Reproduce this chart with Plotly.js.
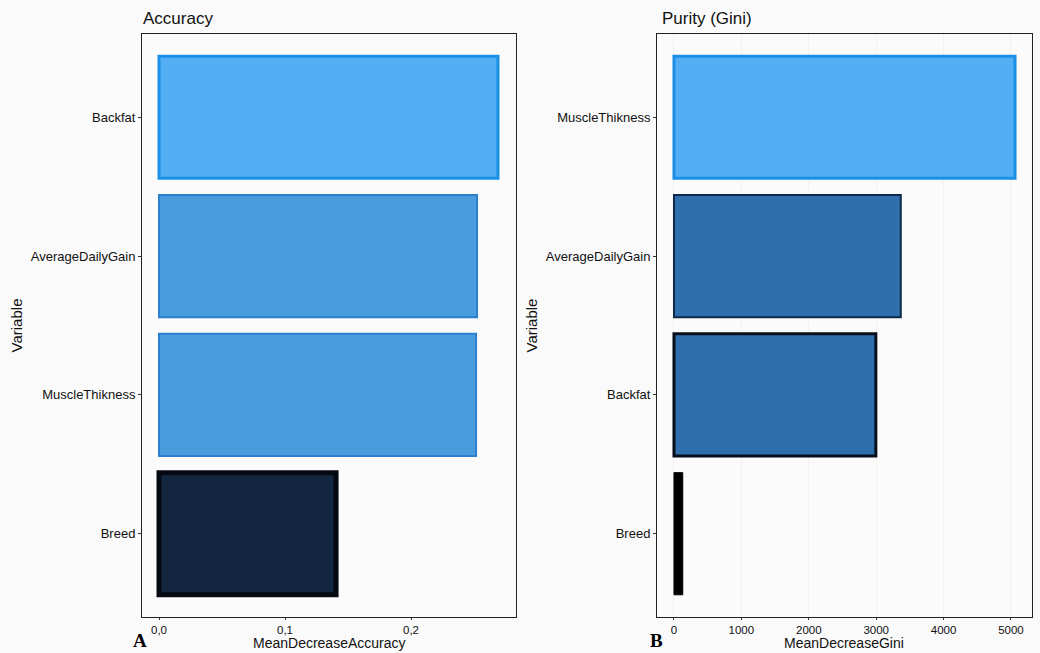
<!DOCTYPE html>
<html>
<head>
<meta charset="utf-8">
<script src="https://cdn.plot.ly/plotly-3.0.1.min.js"></script>
<style>html,body{margin:0;padding:0;background:#fff;}#chart{width:1040px;height:653px;}</style>
</head>
<body>
<div id="chart"></div>
<script>
// Panel A: Mean decrease accuracy
const accVariables = ['Backfat', 'AverageDailyGain', 'MuscleThikness', 'Breed'];
const accValues = [0.269, 0.2524, 0.2516, 0.1405];
const accFill = ['#53aef4', '#4a9ddd', '#4a9ddd', '#13263f'];
const accLine = ['#1b8fe6', '#2d7fd0', '#2d7fd0', '#050a12'];
const accLineW = [3, 2, 2, 5];
const accOrder = ['Breed', 'MuscleThikness', 'AverageDailyGain', 'Backfat'];
const accTickVals = [0, 0.1, 0.2];
const accTickText = ['0,0', '0,1', '0,2'];

// Panel B: Mean decrease Gini
const giniVariables = ['MuscleThikness', 'AverageDailyGain', 'Backfat', 'Breed'];
const giniValues = [5060, 3365, 2995, 130];
const giniFill = ['#53aef4', '#2f6fae', '#2f6fae', '#000000'];
const giniLine = ['#1b8fe6', '#0e2a4a', '#070f1a', '#000000'];
const giniLineW = [3, 2, 3, 1];
const giniOrder = ['Breed', 'Backfat', 'AverageDailyGain', 'MuscleThikness'];
const giniTickVals = [0, 1000, 2000, 3000, 4000, 5000];
const giniTickText = ['0', '1000', '2000', '3000', '4000', '5000'];

const W = 1040, H = 653;
const font = 'Liberation Sans, Arial, sans-serif';

const traces = [
  {
    type: 'bar', orientation: 'h', x: accValues, y: accVariables,
    xaxis: 'x', yaxis: 'y', width: 0.88,
    marker: {color: accFill, line: {color: accLine, width: accLineW}},
    hoverinfo: 'x+y', showlegend: false
  },
  {
    type: 'bar', orientation: 'h', x: giniValues, y: giniVariables,
    xaxis: 'x2', yaxis: 'y2', width: 0.88,
    marker: {color: giniFill, line: {color: giniLine, width: giniLineW}},
    hoverinfo: 'x+y', showlegend: false
  }
];

const yDom = [1 - 617/H, 1 - 34/H];
const axCommon = {
  showline: true, linecolor: '#222', linewidth: 1, mirror: true,
  ticks: 'outside', ticklen: 3, tickcolor: '#333',
  zeroline: false, showgrid: false,
  tickfont: {family: font, size: 13, color: '#111'}
};
const xTickFont = {family: font, size: 11.5, color: '#111'};
const titleFont = {family: font, size: 15, color: '#111'};
const xTitleFont = {family: font, size: 14, color: '#111'};

const layout = {
  width: W, height: H,
  margin: {l: 0, r: 0, t: 0, b: 0},
  paper_bgcolor: '#fafafa', plot_bgcolor: '#fbfbfb',
  font: {family: font, color: '#111'},
  bargap: 0,
  xaxis: Object.assign({}, axCommon, {
    domain: [142/W, 516/W], anchor: 'y', ticklen: 2, tickfont: xTickFont,
    range: [-0.0135, 0.2833], tickvals: accTickVals, ticktext: accTickText
  }),
  yaxis: Object.assign({}, axCommon, {
    domain: yDom, anchor: 'x',
    type: 'category', categoryorder: 'array', categoryarray: accOrder,
    range: [-0.6, 3.6],
    title: {text: 'Variable', font: titleFont, standoff: 4}
  }),
  xaxis2: Object.assign({}, axCommon, {
    domain: [657/W, 1032/W], anchor: 'y2', ticklen: 2, tickfont: xTickFont,
    range: [-252, 5312], tickvals: giniTickVals, ticktext: giniTickText,
    showgrid: true, gridcolor: '#f2f2f2', gridwidth: 1
  }),
  yaxis2: Object.assign({}, axCommon, {
    domain: yDom, anchor: 'x2',
    type: 'category', categoryorder: 'array', categoryarray: giniOrder,
    range: [-0.6, 3.6],
    title: {text: 'Variable', font: titleFont, standoff: 4}
  }),
  annotations: [
    {text: 'MeanDecreaseAccuracy', xref: 'paper', yref: 'paper', x: 329/W, y: 0,
     xanchor: 'center', yanchor: 'bottom', showarrow: false, font: xTitleFont},
    {text: 'MeanDecreaseGini', xref: 'paper', yref: 'paper', x: 844/W, y: 0,
     xanchor: 'center', yanchor: 'bottom', showarrow: false, font: xTitleFont},
    {text: 'Accuracy', xref: 'paper', yref: 'paper', x: 141/W, y: 1 - 18/H,
     xanchor: 'left', yanchor: 'middle', showarrow: false,
     font: {family: font, size: 17, color: '#111'}},
    {text: 'Purity (Gini)', xref: 'paper', yref: 'paper', x: 660/W, y: 1 - 18/H,
     xanchor: 'left', yanchor: 'middle', showarrow: false,
     font: {family: font, size: 17, color: '#111'}},
    {text: '<b>A</b>', xref: 'paper', yref: 'paper', x: 131/W, y: 0,
     xanchor: 'left', yanchor: 'bottom', showarrow: false,
     font: {family: 'Liberation Serif, serif', size: 19, color: '#000'}},
    {text: '<b>B</b>', xref: 'paper', yref: 'paper', x: 648/W, y: 0,
     xanchor: 'left', yanchor: 'bottom', showarrow: false,
     font: {family: 'Liberation Serif, serif', size: 19, color: '#000'}}
  ]
};

Plotly.newPlot('chart', traces, layout, {displayModeBar: false, staticPlot: true});
</script>
</body>
</html>
